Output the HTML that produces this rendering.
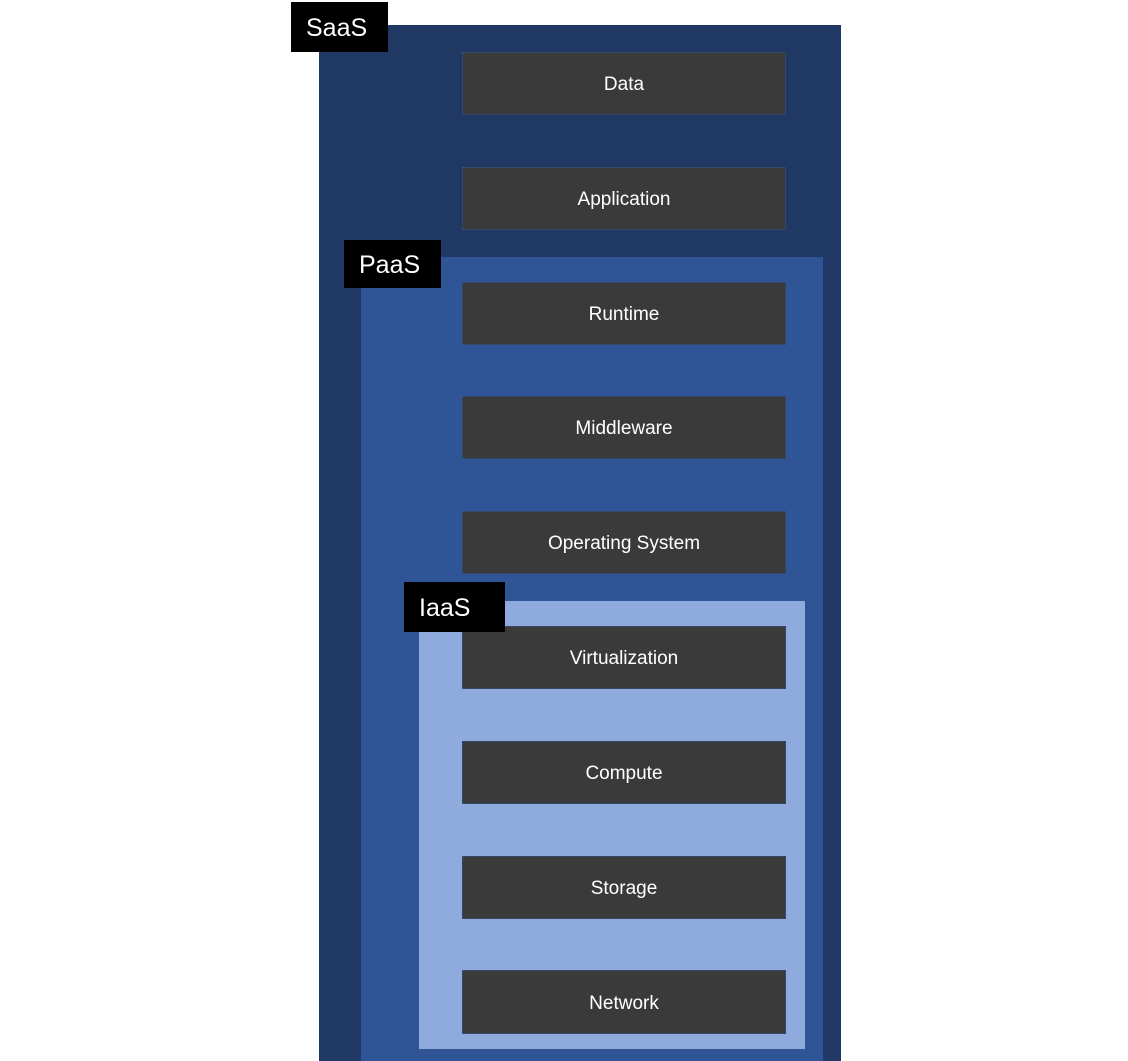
<!DOCTYPE html>
<html><head><meta charset="utf-8"><style>
html,body{margin:0;padding:0;background:#fff;}
body{width:1128px;height:1061px;position:relative;overflow:hidden;font-family:"Liberation Sans",sans-serif;}
.a{position:absolute;box-sizing:border-box;}
.lbl{background:#000;color:#fff;font-size:25px;line-height:1;padding-left:15px;padding-top:2px;display:flex;align-items:center;}
.box{background:#3a3a3a;border:1px dotted #2f5597;color:#fff;font-size:19px;padding-top:3px;display:flex;align-items:center;justify-content:center;left:462px;width:324px;height:63px;}
</style></head><body>
<div class="a" style="left:319px;top:25px;width:522px;height:1036px;background:#1f3864;"></div>
<div class="a" style="left:361px;top:257px;width:462px;height:804px;background:#2f5597;"></div>
<div class="a" style="left:419px;top:601px;width:386px;height:448px;background:#8faadc;"></div>
<div class="a box" style="top:52px;">Data</div>
<div class="a box" style="top:167px;">Application</div>
<div class="a box" style="top:282px;">Runtime</div>
<div class="a box" style="top:396px;">Middleware</div>
<div class="a box" style="top:511px;">Operating System</div>
<div class="a box" style="top:626px;">Virtualization</div>
<div class="a box" style="top:741px;">Compute</div>
<div class="a box" style="top:856px;">Storage</div>
<div class="a box" style="top:970px;height:64px;">Network</div>
<div class="a lbl" style="left:291px;top:2px;width:97px;height:50px;">SaaS</div>
<div class="a lbl" style="left:344px;top:240px;width:97px;height:48px;">PaaS</div>
<div class="a lbl" style="left:404px;top:582px;width:101px;height:50px;">IaaS</div>
</body></html>
